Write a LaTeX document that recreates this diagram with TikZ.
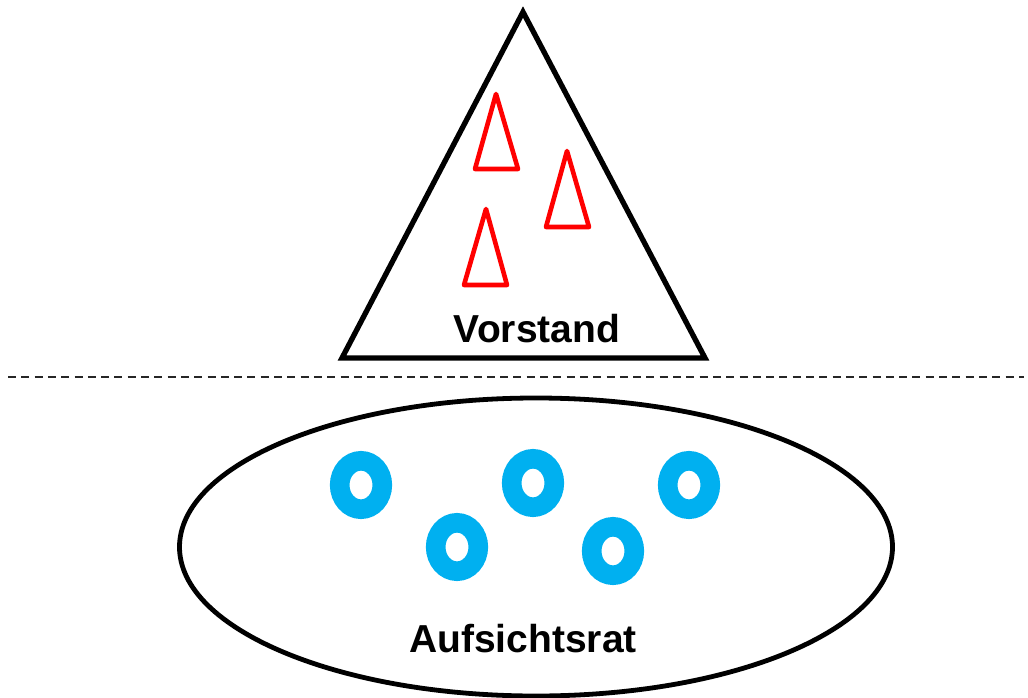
\documentclass[tikz,border=0pt]{standalone}
\usepackage{fontspec}
\setmainfont{Liberation Sans}
\usepackage{tikz}
\usetikzlibrary{positioning,shapes.geometric}
\definecolor{ringblue}{HTML}{00B0F0}

\begin{document}
\begin{tikzpicture}[x=1pt,y=-1pt,
outline/.style={draw=black,line width=5.3pt},
cone/.style={draw=red,line width=4.6pt,line join=round},
ring/.style={draw=ringblue,line width=19.6pt},
label/.style={font=\fontsize{39}{44}\selectfont\bfseries,anchor=base,inner sep=0pt},
divider/.style={draw=black!85,line width=1.5pt,dash pattern=on 8pt off 5.3pt}]
\useasboundingbox (0,0) rectangle (1028,698);
% Vorstand (board)
\coordinate (apex) at (523,12);
\coordinate (bl) at (342,358);
\coordinate (br) at (705,358);
\draw[outline] (apex) -- (bl) -- (br) -- cycle;
\foreach \x/\y/\l/\r/\b in {496/94/475/518/169, 567/151/546/589/227, 486/209/464/507/285}
  \draw[cone] (\x,\y) -- (\l,\b) -- (\r,\b) -- cycle;
\node[label] (vorstand) at (537,342) {Vorstand};
% dividing line
\coordinate (dl) at (8,377);
\coordinate (dr) at (1024,377);
\draw[divider] (dl) -- (dr);
% Aufsichtsrat (supervisory board)
\node[outline,line width=4.8pt,ellipse,minimum width=713pt,minimum height=298pt,inner sep=0pt] (rat) at (536,547) {};
\foreach \x/\y in {361/485, 457/547, 533/483, 613/551, 689/485}
  \draw[ring] (\x,\y) ellipse [x radius=21.3pt,y radius=24.2pt];
\node[label] (aufsichtsrat) at (523,652) {Aufsichtsrat};
\end{tikzpicture}
\end{document}
